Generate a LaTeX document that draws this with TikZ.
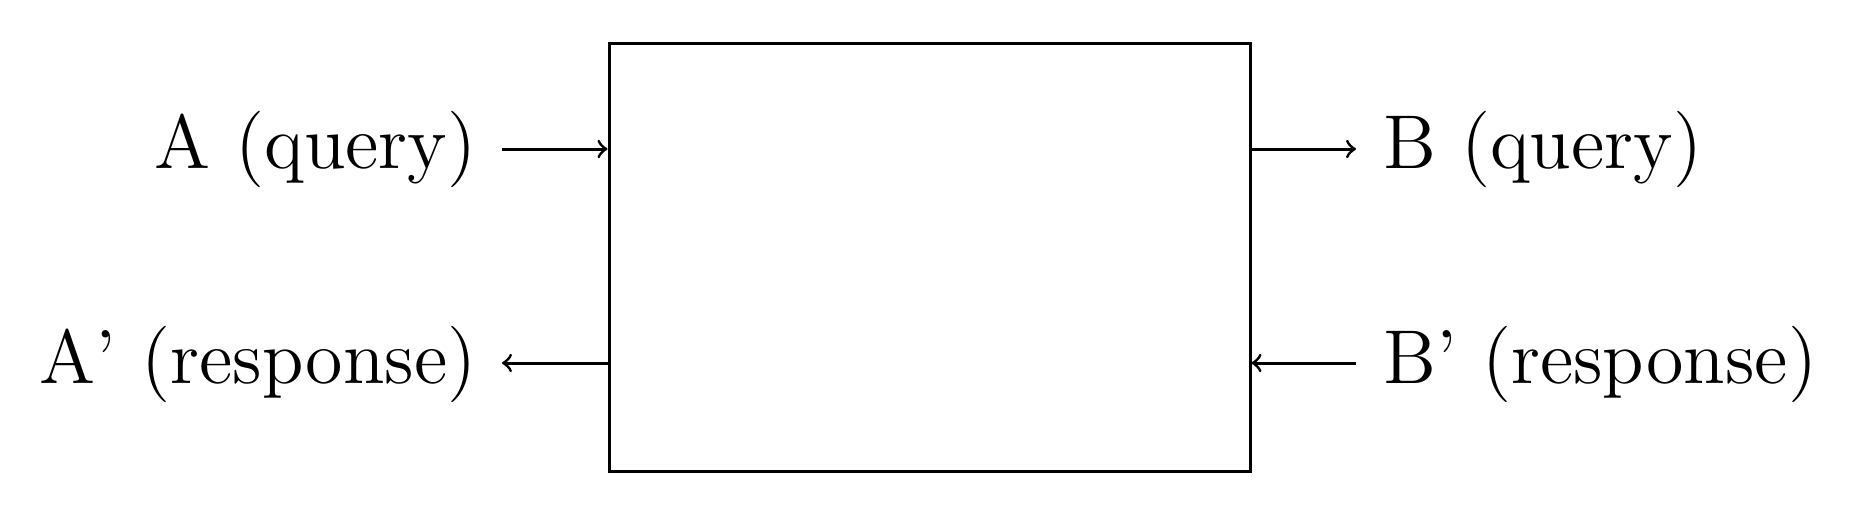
\documentclass[tikz,border=0pt]{standalone}
\usepackage{graphicx}
\begin{document}
\begin{tikzpicture}[x=0.25pt,y=-0.25pt,
  every path/.style={line width=0.75pt},
  lbl/.style={inner sep=0pt,font=\fontsize{12}{14}\selectfont},
  blk/.style={draw,line width=0.75pt,minimum width=160.25pt,minimum height=107pt,inner sep=0pt},
  conn/.style={->,line width=0.75pt}]
\useasboundingbox (0,0) rectangle (1854,526);
\node[blk] (box) at (929.5,257) {};
\node[lbl,anchor=base east] (aq) at (478,168.5) {\scalebox{1.59}{A (query)}};
\node[lbl,anchor=base east] (ar) at (478,383) {\scalebox{1.59}{A' (response)}};
\node[lbl,anchor=base west] (bq) at (1382,168.5) {\scalebox{1.59}{B (query)}};
\node[lbl,anchor=base west] (br) at (1382,383) {\scalebox{1.59}{B' (response)}};
\coordinate (a1) at (502,149);
\coordinate (a2) at (502,363);
\coordinate (b1) at (1356,149);
\coordinate (b2) at (1356,363);
\draw[conn] (a1) -- (a1 -| box.west);
\draw[conn] (a2 -| box.west) -- (a2);
\draw[conn] (b1 -| box.east) -- (b1);
\draw[conn] (b2) -- (b2 -| box.east);
\end{tikzpicture}
\end{document}
